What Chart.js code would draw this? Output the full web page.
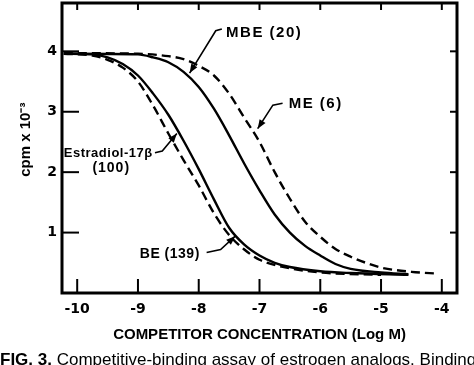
<!DOCTYPE html>
<html lang="en">
<head>
<meta charset="UTF-8">
<title>Competitive-binding assay of estrogen analogs</title>
<script src="https://cdn.jsdelivr.net/npm/chart.js"></script>
<style>
  body { margin: 0; background: #fff; width: 474px; height: 365px; overflow: hidden; position: relative; font-family: "Liberation Sans", Arial, sans-serif; }
  #wrap { position: absolute; left: 0; top: 0; width: 474px; height: 365px; }
  .caption { position: absolute; left: 0; top: 350px; font-size: 17px; white-space: nowrap; color: #000; }
</style>
</head>
<body>
<div id="wrap"><canvas id="chart" width="474" height="365"></canvas></div>
<div class="caption"><b>FIG. 3.</b> Competitive-binding assay of estrogen analogs. Binding</div>
<script>
// values (x = log M, y = cpm x 10^-3)
const estX = [-10.22, -9.75, -9.5, -9.25, -9.0, -8.75, -8.5, -8.25, -8.0, -7.75, -7.5, -7.25, -7.0, -6.75, -6.5, -6.0, -5.5, -4.55];
const estY = [3.96, 3.95, 3.9, 3.79, 3.6, 3.3, 2.95, 2.52, 2.05, 1.55, 1.08, 0.8, 0.62, 0.5, 0.43, 0.36, 0.33, 0.3];
const beX = [-10.22, -9.75, -9.5, -9.25, -9.0, -8.75, -8.5, -8.25, -8.0, -7.75, -7.5, -7.25, -7.0, -6.5, -6.0, -5.0];
const beY = [3.96, 3.93, 3.86, 3.73, 3.5, 3.1, 2.64, 2.2, 1.78, 1.32, 0.96, 0.72, 0.55, 0.41, 0.34, 0.3];
const mbeX = [-10.22, -9.0, -8.75, -8.5, -8.25, -8.0, -7.75, -7.5, -7.25, -7.0, -6.75, -6.5, -6.25, -6.0, -5.75, -5.5, -5.0, -4.55];
const mbeY = [3.96, 3.95, 3.9, 3.82, 3.66, 3.41, 3.05, 2.61, 2.14, 1.7, 1.3, 1.0, 0.78, 0.62, 0.48, 0.4, 0.34, 0.31];
const meX = [-10.22, -9.0, -8.5, -8.25, -8.0, -7.75, -7.5, -7.25, -7.0, -6.75, -6.5, -6.25, -6.0, -5.75, -5.5, -5.25, -5.0, -4.5, -4.05];
const meY = [3.97, 3.96, 3.92, 3.87, 3.76, 3.6, 3.3, 2.9, 2.5, 2.0, 1.56, 1.18, 0.93, 0.73, 0.6, 0.5, 0.42, 0.35, 0.32];

const xTicks = [-10, -9, -8, -7, -6, -5, -4];
const yTicks = [1, 2, 3, 4];

// curve labels and their pointer arrows, in data coordinates
const notes = [
  { text: 'MBE (20)', x: -7.55, y: 4.31, size: 15, gap: 1.5 },
  { text: 'ME (6)', x: -6.52, y: 3.13, size: 15, gap: 1.5 },
  { text: 'Estradiol-17\u03B2', x: -10.22, y: 2.31, size: 13, gap: 0.5 },
  { text: '(100)', x: -9.75, y: 2.06, size: 14, gap: 1 },
  { text: 'BE (139)', x: -8.97, y: 0.65, size: 14, gap: 0.5 }
];
const arrows = [
  [[-7.62, 4.37], [-7.72, 4.34], [-8.15, 3.64]],
  [[-6.62, 3.14], [-6.78, 3.11], [-7.03, 2.72]],
  [[-8.72, 2.32], [-8.6, 2.35], [-8.36, 2.64]],
  [[-7.87, 0.67], [-7.64, 0.72], [-7.4, 0.94]]
];

const FONT = '"Liberation Sans", Arial, sans-serif';
const TICKFONT = '"DejaVu Sans", sans-serif';

function pts(xs, ys) {
  return xs.map((v, i) => ({ x: v, y: ys[i] }));
}

function curve(data, dashed) {
  return {
    data: data,
    borderColor: '#000',
    borderWidth: 2.4,
    borderDash: dashed ? [9, 5] : [],
    pointRadius: 0,
    cubicInterpolationMode: 'monotone',
    fill: false
  };
}

const framePlugin = {
  id: 'frame',
  afterDatasetsDraw(chart) {
    const { ctx, chartArea: a, scales: { x, y } } = chart;
    ctx.save();
    ctx.strokeStyle = '#000';
    ctx.fillStyle = '#000';
    ctx.lineCap = 'butt';

    function seg(x1, y1, x2, y2) {
      ctx.beginPath(); ctx.moveTo(x1, y1); ctx.lineTo(x2, y2); ctx.stroke();
    }

    // inward tick marks on all four sides
    ctx.lineWidth = 2;
    xTicks.forEach(v => {
      const px = x.getPixelForValue(v);
      seg(px, a.bottom, px, a.bottom - 14);
      seg(px, a.top, px, a.top + 7);
    });
    yTicks.forEach(v => {
      const py = y.getPixelForValue(v);
      seg(a.left, py, a.left + 17, py);
      seg(a.right, py, a.right - 7, py);
    });

    // frame
    ctx.lineWidth = 3;
    ctx.strokeRect(a.left, a.top, a.right - a.left, a.bottom - a.top);

    // labels
    ctx.textAlign = 'left';
    ctx.textBaseline = 'middle';
    notes.forEach(n => {
      ctx.font = 'bold ' + n.size + 'px ' + FONT;
      ctx.letterSpacing = n.gap + 'px';
      ctx.fillText(n.text, x.getPixelForValue(n.x), y.getPixelForValue(n.y));
    });
    ctx.letterSpacing = '0px';

    // arrows
    ctx.lineWidth = 1.6;
    arrows.forEach(p => {
      const q = p.map(v => [x.getPixelForValue(v[0]), y.getPixelForValue(v[1])]);
      ctx.beginPath();
      ctx.moveTo(q[0][0], q[0][1]);
      for (let i = 1; i < q.length; i++) ctx.lineTo(q[i][0], q[i][1]);
      ctx.stroke();
      const [ex, ey] = q[q.length - 1];
      const [sx, sy] = q[q.length - 2];
      const ang = Math.atan2(ey - sy, ex - sx);
      ctx.beginPath();
      ctx.moveTo(ex, ey);
      ctx.lineTo(ex - 9 * Math.cos(ang) + 3.5 * Math.sin(ang), ey - 9 * Math.sin(ang) - 3.5 * Math.cos(ang));
      ctx.lineTo(ex - 9 * Math.cos(ang) - 3.5 * Math.sin(ang), ey - 9 * Math.sin(ang) + 3.5 * Math.cos(ang));
      ctx.closePath();
      ctx.fill();
    });
    ctx.restore();
  }
};

new Chart(document.getElementById('chart'), {
  type: 'line',
  data: {
    datasets: [
      curve(pts(estX, estY), false),
      curve(pts(beX, beY), true),
      curve(pts(mbeX, mbeY), false),
      curve(pts(meX, meY), true)
    ]
  },
  options: {
    responsive: false,
    animation: false,
    layout: { padding: { left: 0, top: 3, right: 17, bottom: 21 } },
    plugins: { legend: { display: false }, tooltip: { enabled: false } },
    scales: {
      x: {
        type: 'linear',
        min: -10.25,
        max: -3.75,
        grid: { display: false, drawTicks: false },
        border: { display: false },
        afterBuildTicks: s => { s.ticks = xTicks.map(v => ({ value: v })); },
        afterFit: s => { s.height = 51; s.paddingLeft = 0; s.paddingRight = 0; },
        ticks: { color: '#000', padding: 8, maxRotation: 0, font: { family: TICKFONT, size: 14, weight: 'bold' } },
        title: {
          display: true,
          text: 'COMPETITOR CONCENTRATION (Log M)',
          color: '#000',
          padding: 0,
          font: { family: FONT, size: 15, weight: 'bold' }
        }
      },
      y: {
        min: 0,
        max: 4.8,
        grid: { display: false, drawTicks: false },
        border: { display: false },
        afterBuildTicks: s => { s.ticks = yTicks.map(v => ({ value: v })); },
        afterFit: s => { s.width = 62; s.paddingTop = 0; s.paddingBottom = 0; },
        ticks: { color: '#000', padding: 5, font: { family: TICKFONT, size: 14, weight: 'bold' } },
        title: {
          display: true,
          text: '    cpm x 10\u207B\u00B3',
          color: '#000',
          padding: { top: 17 },
          font: { family: FONT, size: 15, weight: 'bold' }
        }
      }
    }
  },
  plugins: [framePlugin]
});
</script>
</body>
</html>
